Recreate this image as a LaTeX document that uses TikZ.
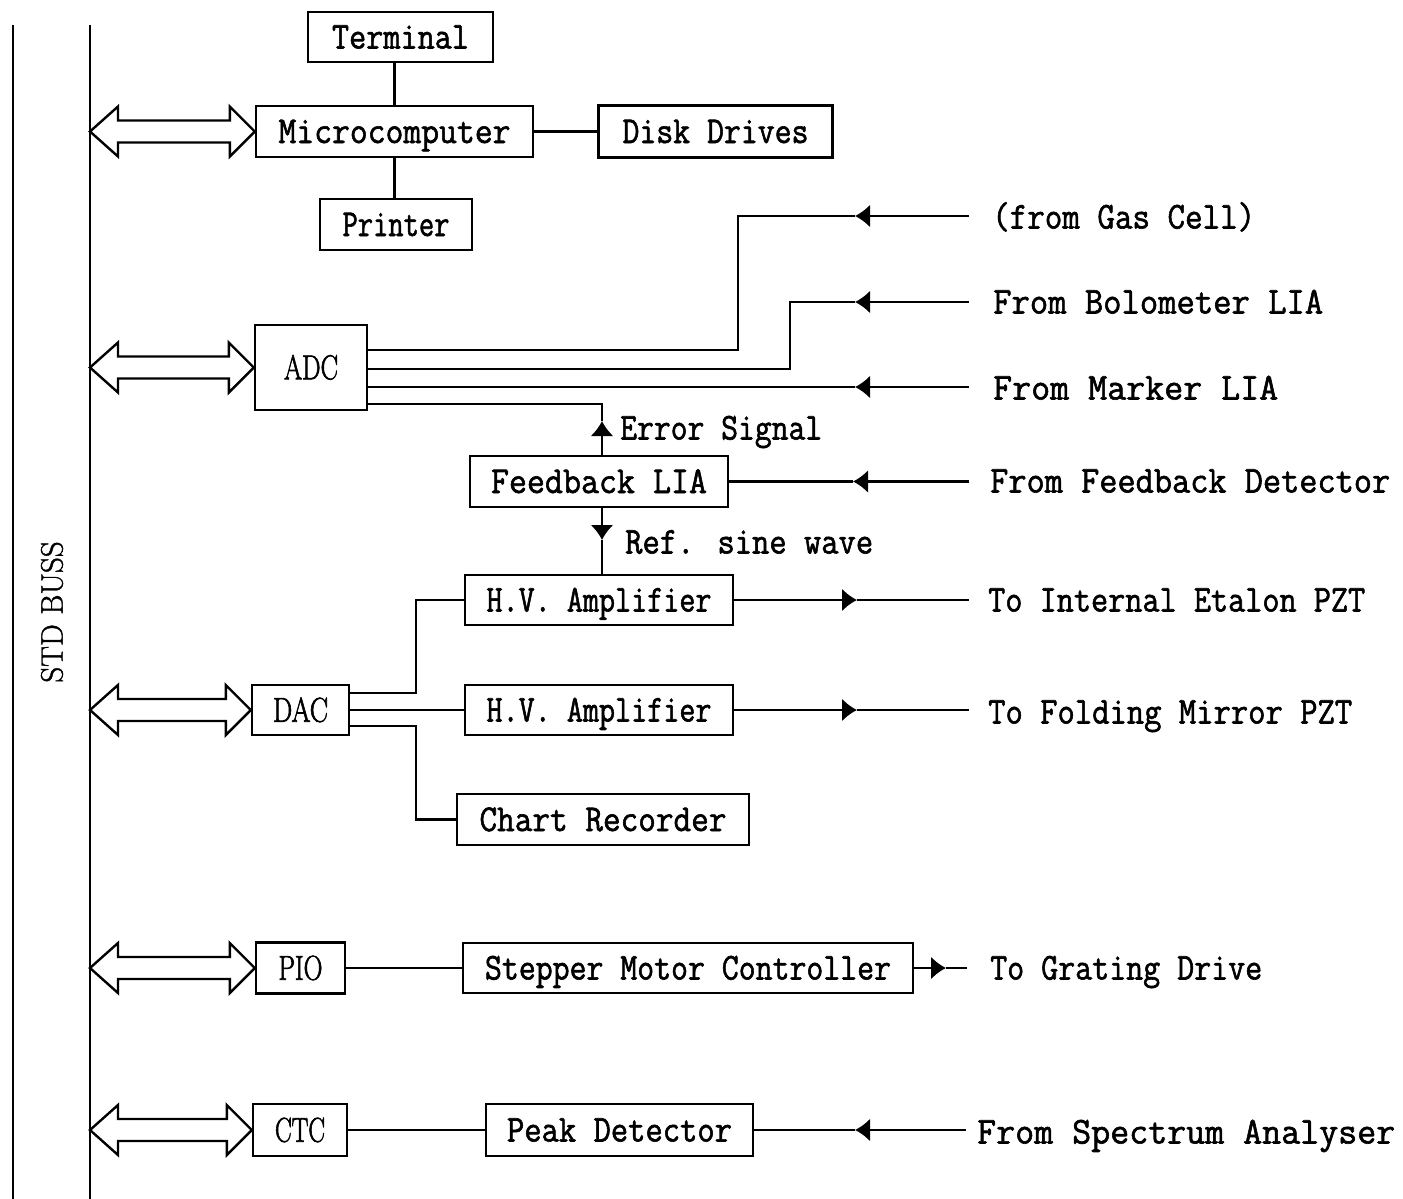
\documentclass[tikz,border=0pt]{standalone}
\usepackage{fontspec}
\usepackage{graphicx}
\usetikzlibrary{arrows.meta,calc}
\newfontfamily\twfont{Latin Modern Mono}[FakeBold=1.6]
\newfontfamily\romfont{Latin Modern Roman}[FakeBold=2.2]
\newfontfamily\stdfont{Latin Modern Roman}[FakeBold=1.2]
\newcommand{\fw}[2]{\resizebox{#1pt}{\height}{#2}}
\newcommand{\busarrow}[1]{%
  \draw[lw] (bus |- #1.west) -- ++(28,-25) -- ++(0,14) -- ($(#1.west)+(-25,-11)$) -- ++(0,-14)
    -- (#1.west) -- ++(-25,25) -- ++(0,-14) -- ($(bus |- #1.west)+(28,11)$) -- ++(0,14) -- cycle;}
\tikzset{
  lw/.style={line width=2.4pt},
  tip/.style={lw,-{Latex[length=15pt,width=23pt]}},
  blk/.style={draw, line width=2.4pt, inner sep=0pt, text height=23pt, text depth=0pt,
    font=\fontsize{38}{42}\selectfont\twfont},
  rblk/.style={draw, line width=2.4pt, inner sep=0pt, text height=23.5pt, text depth=0pt,
    font=\fontsize{34.5}{38}\selectfont\romfont},
  rl/.style={inner sep=0pt, anchor=west, text height=23pt, text depth=0pt,
    font=\fontsize{38}{42}\selectfont\twfont},
}
\begin{document}
\begin{tikzpicture}[x=1pt,y=-1pt]
\useasboundingbox[fill=white] (0,0) rectangle (1403,1199);

% bus
\coordinate (bus) at (90,0);
\coordinate (busL) at (13,0);
\draw[lw] (13,25) -- (13,1199);
\draw[lw] (90,25) -- (90,1199);
\node[rotate=90, inner sep=0pt, font=\fontsize{31}{34}\selectfont\stdfont] (std) at (52,612) {STD BUSS};

% top group
\node[blk, minimum width=185pt, minimum height=50pt] (term) at (400.5,37) {\fw{137}{Terminal}};
\node[blk, minimum width=277pt, minimum height=51pt] (micro) at (394.5,131.5) {\fw{232}{Microcomputer}};
\node[blk, minimum width=234pt, minimum height=52pt] (disk) at (715.5,131.5) {\fw{186}{Disk Drives}};
\node[blk, minimum width=152pt, minimum height=51pt] (printer) at (396,224.5) {\fw{107}{Printer}};
\draw[lw] (micro.north) -- (micro.north |- term.south);
\draw[lw] (micro.south) -- (micro.south |- printer.north);
\draw[lw] (micro.east) -- (disk.west);

% ADC group
\node[rblk, minimum width=112pt, minimum height=85pt] (adc) at (311,367.5) {\fw{54}{ADC}};
\node[blk, minimum width=258pt, minimum height=51pt] (fb) at (599,481.5) {\fw{216}{Feedback LIA}};
\node[rl] (gasL) at (992,217) {\fw{263}{(from Gas Cell)}};
\node[rl] (boloL) at (993,302) {\fw{330}{From Bolometer LIA}};
\node[rl] (markL) at (993,388) {\fw{285}{From Marker LIA}};
\node[rl] (fbL) at (990,481) {\fw{400}{From Feedback Detector}};
\node[rl] (errL) at (620,428) {\fw{202}{Error Signal}};
\node[rl] (refL) at (625,542) {\fw{248}{Ref. sine wave}};

\coordinate (gasE) at (969,216);
\coordinate (boloE) at (969,302);
\coordinate (markE) at (969,387);
\coordinate (fbE) at (969,481.5);
\draw[tip] (gasE) -- (855,216);
\draw[lw] (855,216) -- (738,216) -- (738,350) -- (adc.east |- 0,350);
\draw[tip] (boloE) -- (855,302);
\draw[lw] (855,302) -- (790,302) -- (790,369) -- (adc.east |- 0,369);
\draw[tip] (markE) -- (855,387);
\draw[lw] (855,387) -- (adc.east |- 0,387);
\draw[tip] (fb.north -| 602,0) -- (602,421);
\draw[lw] (602,421) -- (602,404) -- (adc.east |- 0,404);
\draw[tip] (fbE) -- (853,481.5);
\draw[lw] (853,481.5) -- (fb.east);

% DAC group
\node[rblk, minimum width=97pt, minimum height=50pt] (dac) at (300.5,710) {\fw{55}{DAC}};
\node[blk, minimum width=268pt, minimum height=50pt] (hv1) at (599,600) {\fw{225}{H.V. Amplifier}};
\node[blk, minimum width=268pt, minimum height=50pt] (hv2) at (599,710) {\fw{225}{H.V. Amplifier}};
\node[blk, minimum width=292pt, minimum height=51pt] (chart) at (603,819.5) {\fw{247}{Chart Recorder}};
\node[rl] (etL) at (988,600) {\fw{377}{To Internal Etalon PZT}};
\node[rl] (miL) at (988,712) {\fw{364}{To Folding Mirror PZT}};
\coordinate (etE) at (969,600);
\coordinate (miE) at (969,710);
\draw[tip] (fb.south -| 602,0) -- (602,540);
\draw[lw] (602,540) -- (hv1.north -| 602,0);
\draw[tip] (hv1.east) -- (857,600);
\draw[lw] (857,600) -- (etE);
\draw[tip] (hv2.east) -- (857,710);
\draw[lw] (857,710) -- (miE);
\draw[lw] (dac.east |- 0,693) -- (416,693) -- (416,600) -- (hv1.west);
\draw[lw] (dac.east) -- (hv2.west);
\draw[lw] (dac.east |- 0,726) -- (416,726) -- (416,819.5) -- (chart.west);

% PIO group
\node[rblk, minimum width=89pt, minimum height=51pt] (pio) at (300.5,968) {\fw{44}{PIO}};
\node[blk, minimum width=450pt, minimum height=50pt] (step) at (688,968) {\fw{406}{Stepper Motor Controller}};
\node[rl] (grL) at (990,968) {\fw{272}{To Grating Drive}};
\coordinate (grE) at (967,968);
\draw[lw] (pio.east) -- (step.west);
\draw[tip] (step.east) -- (946,968);
\draw[lw] (946,968) -- (grE);

% CTC group
\node[rblk, minimum width=94pt, minimum height=52pt] (ctc) at (300,1130) {\fw{50}{CTC}};
\node[blk, minimum width=267pt, minimum height=52pt] (peak) at (619.5,1130) {\fw{225}{Peak Detector}};
\node[rl] (spL) at (977,1132) {\fw{418}{From Spectrum Analyser}};
\coordinate (spE) at (966,1130);
\draw[lw] (ctc.east) -- (peak.west);
\draw[tip] (spE) -- (855,1130);
\draw[lw] (855,1130) -- (peak.east);

% bus arrows
\busarrow{micro}
\busarrow{adc}
\busarrow{dac}
\busarrow{pio}
\busarrow{ctc}
\end{tikzpicture}
\end{document}
